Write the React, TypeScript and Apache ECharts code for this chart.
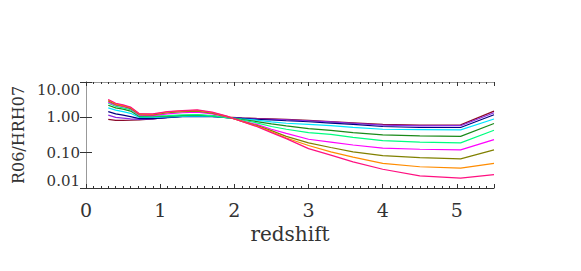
import React, { useEffect, useRef } from "react";
import * as echarts from "echarts";

const redshift = [0.3, 0.4, 0.5, 0.6, 0.72, 0.9, 1.1, 1.3, 1.5, 1.7, 1.9, 2.1, 2.3, 2.5, 2.7, 3.0, 3.3, 3.6, 4.0, 4.5, 5.05, 5.5];

const maroon = [0.88, 0.82, 0.82, 0.83, 0.85, 0.9, 1.0, 1.08, 1.1, 1.08, 1.02, 0.97, 0.93, 0.9, 0.87, 0.82, 0.76, 0.7, 0.63, 0.6, 0.61, 1.5];
const purple = [1.15, 1.0, 0.95, 0.9, 0.88, 0.9, 1.0, 1.06, 1.08, 1.06, 1.0, 0.95, 0.91, 0.88, 0.85, 0.8, 0.74, 0.68, 0.6, 0.57, 0.58, 1.35];
const navy = [1.45, 1.25, 1.15, 1.05, 0.92, 0.92, 0.98, 1.04, 1.06, 1.04, 0.98, 0.93, 0.88, 0.84, 0.8, 0.75, 0.69, 0.63, 0.55, 0.515, 0.515, 1.18];
const cyan = [1.85, 1.6, 1.45, 1.3, 1.0, 1.0, 1.03, 1.07, 1.1, 1.06, 0.98, 0.9, 0.83, 0.74, 0.68, 0.63, 0.58, 0.52, 0.46, 0.45, 0.44, 0.9];
const darkGreen = [2.2, 1.85, 1.7, 1.5, 1.05, 1.05, 1.08, 1.12, 1.15, 1.1, 0.98, 0.87, 0.76, 0.65, 0.57, 0.48, 0.43, 0.37, 0.32, 0.3, 0.29, 0.67];
const springGreen = [2.5, 2.05, 1.85, 1.65, 1.1, 1.08, 1.12, 1.17, 1.2, 1.12, 0.98, 0.84, 0.7, 0.55, 0.46, 0.37, 0.33, 0.27, 0.22, 0.2, 0.19, 0.43];
const magenta = [2.7, 2.2, 2.0, 1.75, 1.15, 1.12, 1.25, 1.35, 1.4, 1.25, 1.02, 0.8, 0.63, 0.46, 0.35, 0.24, 0.2, 0.165, 0.135, 0.125, 0.12, 0.235];
const olive = [2.9, 2.3, 2.1, 1.8, 1.2, 1.18, 1.35, 1.45, 1.5, 1.32, 1.05, 0.78, 0.59, 0.42, 0.29, 0.19, 0.14, 0.105, 0.082, 0.072, 0.067, 0.12];
const orange = [3.1, 2.4, 2.15, 1.9, 1.25, 1.22, 1.42, 1.52, 1.57, 1.37, 1.07, 0.77, 0.57, 0.39, 0.26, 0.16, 0.105, 0.075, 0.05, 0.04, 0.0365, 0.05];
const pink = [3.2, 2.5, 2.25, 1.95, 1.27, 1.25, 1.45, 1.55, 1.62, 1.4, 1.08, 0.76, 0.55, 0.37, 0.25, 0.13, 0.085, 0.055, 0.034, 0.022, 0.019, 0.024];

const seriesList = [
  { name: "maroon", data: maroon, color: "#8b0a2a" },
  { name: "purple", data: purple, color: "#8a2be2" },
  { name: "navy", data: navy, color: "#000080" },
  { name: "cyan", data: cyan, color: "#00e5ff" },
  { name: "darkGreen", data: darkGreen, color: "#1a8a1a" },
  { name: "springGreen", data: springGreen, color: "#00ff7f" },
  { name: "magenta", data: magenta, color: "#ff00ff" },
  { name: "olive", data: olive, color: "#808000" },
  { name: "orange", data: orange, color: "#ff8c00" },
  { name: "pink", data: pink, color: "#ff1080" },
];

const FONT = "DejaVu Serif";
const TEXT = "#333";

export default function App() {
  const ref = useRef<HTMLDivElement>(null);
  useEffect(() => {
    document.body.style.margin = "0";
    if (!ref.current) return;
    const chart = echarts.init(ref.current, undefined, { renderer: "svg" });
    chart.setOption({
      animation: false,
      grid: { left: 86, right: 87, top: 82, bottom: 83, containLabel: false },
      xAxis: [
        {
          type: "value",
          min: 0,
          max: 5.5,
          interval: 1,
          position: "bottom",
          name: "redshift",
          nameLocation: "middle",
          nameGap: 36,
          nameTextStyle: { fontFamily: FONT, fontSize: 20, color: TEXT },
          axisLine: { lineStyle: { color: "#333", width: 1 } },
          axisTick: { inside: true, length: 4, lineStyle: { color: "#333" } },
          minorTick: { show: true, splitNumber: 10, length: 2, lineStyle: { color: "#333" } },
          axisLabel: {
            fontFamily: FONT,
            fontSize: 19,
            color: TEXT,
            margin: 12,
            formatter: (v: number) => (Math.abs(v - Math.round(v)) < 1e-9 ? String(Math.round(v)) : ""),
          },
          splitLine: { show: false },
        },
        {
          type: "value",
          min: 0,
          max: 5.5,
          interval: 1,
          position: "top",
          axisLine: { lineStyle: { color: "#999", width: 1 } },
          axisTick: { inside: true, length: 4, lineStyle: { color: "#333" } },
          minorTick: { show: true, splitNumber: 10, length: 2, lineStyle: { color: "#333" } },
          axisLabel: { show: false },
          splitLine: { show: false },
        },
      ],
      yAxis: [
        {
          type: "log",
          logBase: 10,
          min: 0.01,
          max: 10,
          position: "left",
          name: "R06/HRH07",
          nameLocation: "middle",
          nameGap: 58,
          nameTextStyle: { fontFamily: FONT, fontSize: 16, color: TEXT },
          axisLine: { show: true, lineStyle: { color: "#333", width: 1 } },
          axisTick: { show: true, inside: true, length: 6, lineStyle: { color: "#333" } },
          axisLabel: {
            fontFamily: FONT,
            fontSize: 15,
            color: TEXT,
            margin: 6,
            formatter: (v: number) => v.toFixed(2),
            verticalAlignMinLabel: "bottom",
            verticalAlignMaxLabel: "top",
          },
          splitLine: { show: false },
        },
        {
          type: "log",
          logBase: 10,
          min: 0.01,
          max: 10,
          position: "right",
          axisLine: { show: true, lineStyle: { color: "#999", width: 1 } },
          axisTick: { show: true, inside: true, length: 6, lineStyle: { color: "#333" } },
          axisLabel: { show: false },
          splitLine: { show: false },
        },
      ],
      series: seriesList.map((s) => ({
        name: s.name,
        type: "line",
        xAxisIndex: 0,
        yAxisIndex: 0,
        data: redshift.map((z, i) => [z, s.data[i]]),
        showSymbol: false,
        symbol: "none",
        lineStyle: { color: s.color, width: 1.2 },
        itemStyle: { color: s.color },
        smooth: false,
      })),
    });
    return () => chart.dispose();
  }, []);
  return <div ref={ref} style={{ width: 581, height: 271 }} />;
}
